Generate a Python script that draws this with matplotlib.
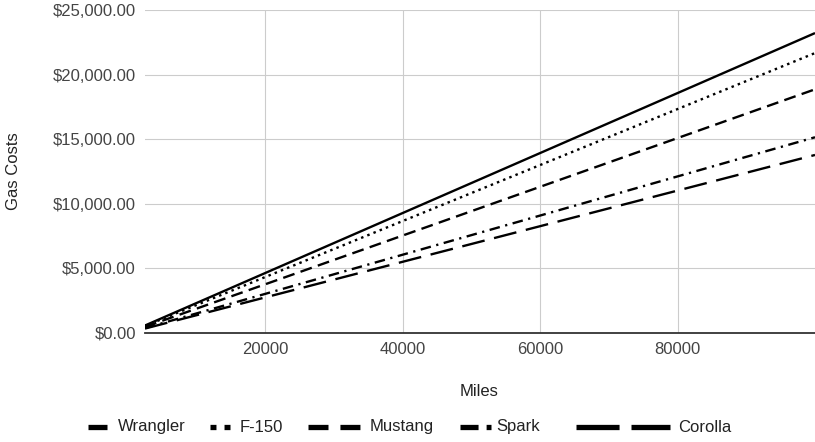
import matplotlib
matplotlib.use("Agg")
import matplotlib.pyplot as plt
from matplotlib.lines import Line2D
from matplotlib.ticker import FuncFormatter

plt.rcParams['font.family'] = ['Liberation Sans', 'DejaVu Sans']
plt.rcParams['lines.scale_dashes'] = False

# Cumulative gas cost by miles driven
miles = [2500, 10000, 20000, 30000, 40000, 50000, 60000, 70000, 80000, 90000, 100000]
wrangler = [580, 2321, 4643, 6964, 9286, 11607, 13929, 16250, 18571, 20893, 23214]
f150 = [542, 2167, 4333, 6500, 8667, 10833, 13000, 15167, 17333, 19500, 21667]
mustang = [472, 1886, 3772, 5658, 7544, 9430, 11316, 13202, 15088, 16974, 18860]
spark = [379, 1515, 3030, 4545, 6060, 7575, 9090, 10605, 12120, 13635, 15150]
corolla = [345, 1378, 2756, 4134, 5512, 6890, 8268, 9646, 11024, 12402, 13780]

series_names = ["Wrangler", "F-150", "Mustang", "Spark", "Corolla"]
series_values = [wrangler, f150, mustang, spark, corolla]

x_ticks = [20000, 40000, 60000, 80000]
y_ticks = [0, 5000, 10000, 15000, 20000, 25000]

W, H = 815, 442
fig = plt.figure(figsize=(W / 100, H / 100), dpi=100)
ax = fig.add_axes([145 / W, 1 - 333 / H, 670 / W, 323 / H])

# line dash patterns in points
styles = [
    dict(linestyle='-'),
    dict(dashes=(1.8, 3.0)),
    dict(dashes=(8.6, 4.6)),
    dict(dashes=(7.6, 4.0, 1.6, 4.0)),
    dict(dashes=(16.6, 7.0)),
]

for vals, st in zip(series_values, styles):
    ax.plot(miles, vals, color='black', lw=1.7, solid_capstyle='butt',
            dash_capstyle='butt', **st)

ax.set_xlim(2500, 100000)
ax.set_ylim(0, 25000)
ax.set_xticks(x_ticks)
ax.set_yticks(y_ticks)
ax.yaxis.set_major_formatter(FuncFormatter(lambda v, p: f"${v:,.2f}"))
ax.xaxis.set_major_formatter(FuncFormatter(lambda v, p: f"{int(v)}"))
ax.tick_params(length=0, labelsize=12, labelcolor='#444444')
ax.tick_params(axis='y', pad=6.5)
ax.tick_params(axis='x', pad=6.5)
ax.grid(True, color='#cccccc', lw=0.8)
ax.set_axisbelow(True)
for s in ['top', 'left', 'right']:
    ax.spines[s].set_visible(False)
ax.spines['bottom'].set_color('#333333')
ax.spines['bottom'].set_linewidth(1.3)

fig.text(479.5 / W, 1 - 392 / H, "Miles", ha='center', va='center',
         fontsize=12, color='#222222')
fig.text(14 / W, 1 - 171 / H, "Gas Costs", ha='center', va='center',
         rotation=90, fontsize=12, color='#222222')

# legend row
ly = 1 - 427 / H
legend_icons = [
    ((88, 107), None),
    ((210, 230), (4.3, 5.8)),
    ((308, 360), (14.4, 8.6)),
    ((460, 491), (13.0, 5.8, 3.6, 10.0)),
    ((576, 670), (31.0, 8.6)),
]
text_x = [118, 240, 370, 496, 678]
for name, (span, dsh), tx in zip(series_names, legend_icons, text_x):
    ln = Line2D([span[0] / W, span[1] / W], [ly, ly], transform=fig.transFigure,
                color='black', lw=3.8, solid_capstyle='butt', dash_capstyle='butt')
    if dsh is not None:
        ln.set_dashes(dsh)
    fig.add_artist(ln)
    fig.text(tx / W, ly, name, ha='left', va='center', fontsize=12, color='#222222')

fig.savefig("out.png", dpi=100)
